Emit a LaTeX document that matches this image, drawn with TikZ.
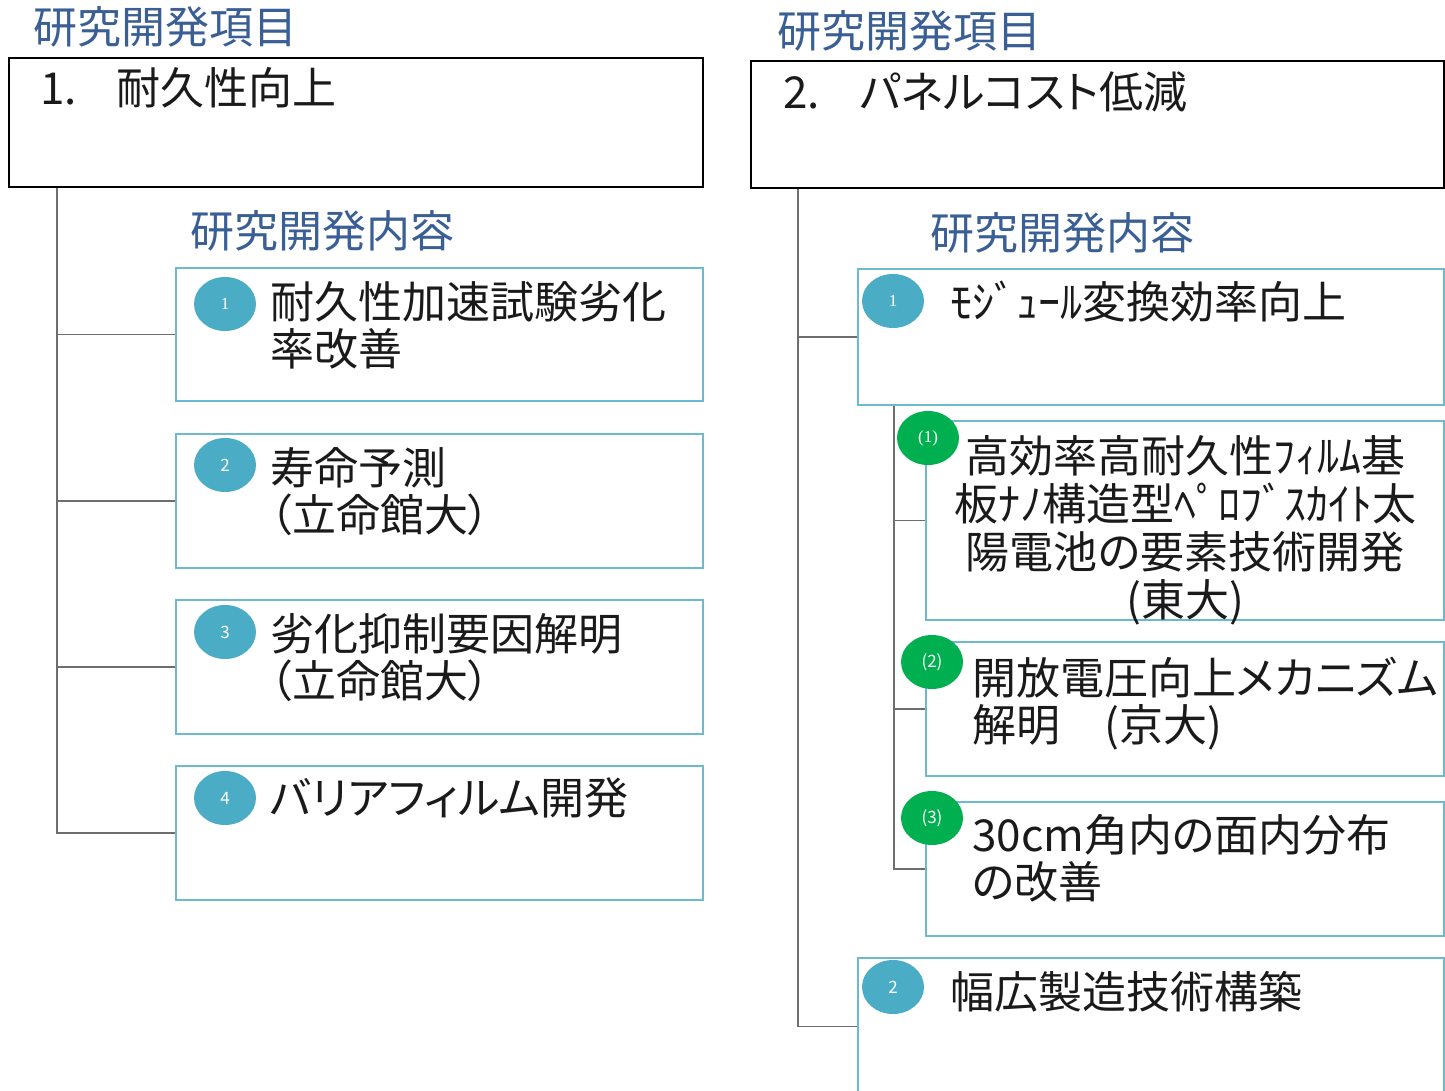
\documentclass[tikz,border=0pt]{standalone}
\usepackage{fontspec}
\setmainfont{Noto Sans CJK JP}[RawFeature=+palt]
\newfontfamily\plainjp{Noto Sans CJK JP}
\newfontfamily\numfont{Liberation Serif}
\usetikzlibrary{shapes.geometric}
\definecolor{ttl}{HTML}{3A5F94}
\definecolor{bcol}{HTML}{6DB9CF}
\definecolor{ncol}{HTML}{4BACC6}
\definecolor{gcol}{HTML}{00B050}
\definecolor{lcol}{HTML}{6E6E6E}
\definecolor{txt}{HTML}{1A1A1A}
\tikzset{
  topbox/.style={draw=black, line width=1.8pt, rectangle, inner sep=0pt, anchor=north west},
  subbox/.style={draw=bcol, line width=1.8pt, rectangle, inner sep=0pt, anchor=north west, fill=white},
  numdot/.style={ellipse, fill=ncol, minimum width=62pt, minimum height=54pt, inner sep=0pt, text=white, font=\fontsize{17}{17}\selectfont},
  gdot/.style={ellipse, fill=gcol, minimum width=62pt, minimum height=54pt, inner sep=0pt, text=white, font=\fontsize{17}{17}\selectfont},
  heading/.style={anchor=base west, inner sep=0pt, text=ttl, font=\plainjp\fontsize{44}{47}\selectfont},
  body/.style={anchor=base west, inner sep=0pt, text=txt, align=left, font=\fontsize{44}{47}\selectfont},
  bodyc/.style={anchor=base, inner sep=0pt, text=txt, align=center, font=\fontsize{44}{48}\selectfont},
  conn/.style={draw=lcol, line width=1.6pt},
}
\begin{document}
\begin{tikzpicture}[x=1pt,y=-1pt]
\useasboundingbox (0,0) rectangle (1445,1091);
\fill[white] (0,0) rectangle (1445,1091);

% ---------- left column ----------
\node[heading] (h1) at (33,44) {研究開発項目};
\node[topbox, minimum width=694pt, minimum height=129pt] (t1) at (8,57) {};
\node[body] (t1txt) at (40,105) {1.\hspace{40pt}耐久性向上};
\node[heading] (c1) at (190,248) {研究開発内容};

\node[subbox, minimum width=527pt, minimum height=133pt] (b1) at (175,267) {};
\node[subbox, minimum width=527pt, minimum height=134pt] (b2) at (175,433) {};
\node[subbox, minimum width=527pt, minimum height=134pt] (b3) at (175,599) {};
\node[subbox, minimum width=527pt, minimum height=134pt] (b4) at (175,765) {};

\draw[conn] ([xshift=49pt]t1.south west) |- (b1.west);
\draw[conn] ([xshift=49pt]t1.south west) |- (b2.west);
\draw[conn] ([xshift=49pt]t1.south west) |- (b3.west);
\draw[conn] ([xshift=49pt]t1.south west) |- (b4.west);

\node[numdot] (n1) at (225,304) {\numfont 1};
\node[numdot] (n2) at (225,465) {2};
\node[numdot] (n3) at (225,632) {3};
\node[numdot] (n4) at (225,798) {4};

% multi-line nodes: base anchor = last line baseline
\node[body] (b1txt) at (270,365) {耐久性加速試験劣化\\率改善};
\node[body] (b2txt) at (270,531) {寿命予測\\（立命館大）};
\node[body] (b3txt) at (270,697) {劣化抑制要因解明\\（立命館大）};
\node[body] (b4txt) at (270,814) {バリアフィルム開発};

% ---------- right column ----------
\node[heading] (h2) at (777,48) {研究開発項目};
\node[topbox, minimum width=693pt, minimum height=127pt] (t2) at (750,60) {};
\node[body] (t2txt) at (783,109) {2.\hspace{40pt}パネルコスト低減};
\node[heading] (c2) at (930,250) {研究開発内容};

\node[subbox, minimum width=586pt, minimum height=136pt] (r1) at (857,268) {};
\node[subbox, minimum width=518pt, minimum height=199pt] (s1) at (925,420) {};
\node[subbox, minimum width=518pt, minimum height=134pt] (s2) at (925,641) {};
\node[subbox, minimum width=518pt, minimum height=134pt] (s3) at (925,801) {};
\node[subbox, minimum width=586pt, minimum height=137pt] (r2) at (857,957) {};

\draw[conn] ([xshift=48pt]t2.south west) |- (r1.west);
\draw[conn] ([xshift=48pt]t2.south west) |- (r2.west);
\draw[conn] ([xshift=37pt]r1.south west) |- (s1.west);
\draw[conn] ([xshift=37pt]r1.south west) |- (s2.west);
\draw[conn] ([xshift=37pt]r1.south west) |- (s3.west);

\node[numdot] (m1) at (893,301) {\numfont 1};
\node[numdot] (m2) at (893,987) {2};
\node[gdot] (g1) at (928,438) {\numfont (1)};
\node[gdot] (g2) at (932,662) {(2)};
\node[gdot] (g3) at (932,818) {(3)};

\node[body] (r1txt) at (950,318) {ﾓｼﾞｭｰﾙ変換効率向上};
\node[bodyc] (s1txt) at (1185,616) {高効率高耐久性ﾌｨﾙﾑ基\\板ﾅﾉ構造型ﾍﾟﾛﾌﾞｽｶｲﾄ太\\陽電池の要素技術開発\\(東大)};
\node[body] (s2txt) at (972,741) {開放電圧向上メカニズム\\解明　(京大)};
\node[body] (s3txt) at (972,898) {30cm角内の面内分布\\の改善};
\node[body] (r2txt) at (950,1008) {幅広製造技術構築};
\end{tikzpicture}
\end{document}
